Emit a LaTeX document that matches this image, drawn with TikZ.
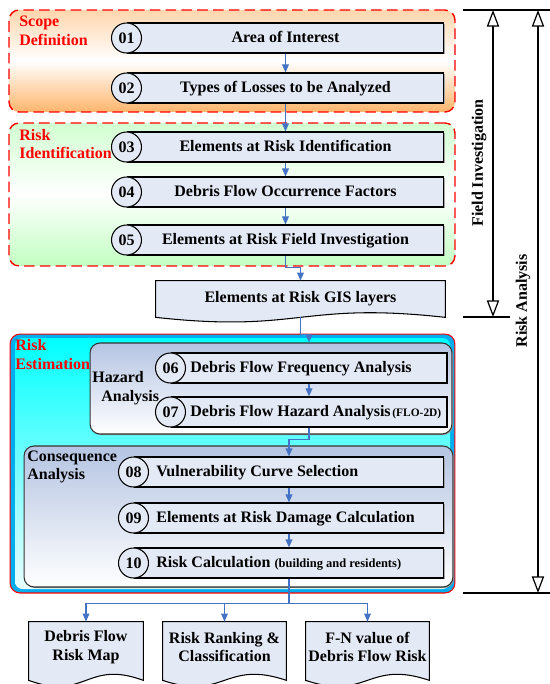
\documentclass[tikz,border=0pt]{standalone}
\usepackage{fontspec}
\setmainfont{Liberation Serif}
\usetikzlibrary{arrows.meta,calc,shadows,backgrounds}
\definecolor{boxfill}{RGB}{228,234,245}
\definecolor{flowblue}{RGB}{68,114,196}
\definecolor{subtop}{RGB}{180,196,226}
\tikzset{
  stepbox/.style={
    draw,
    fill=boxfill,
    line width=0.6pt,
    minimum height=0.6cm,
    inner sep=0pt,
    text height=1.55ex,
    text depth=0.35ex,
    drop shadow={shadow xshift=0.4pt,shadow yshift=-0.5pt,fill=black!35,opacity=1}
  },
  stepnum/.style={
    draw,
    fill=boxfill,
    line width=0.6pt,
    shape=circle,
    minimum size=0.6cm,
    inner sep=0pt
  },
  steptext/.style={
    anchor=west,
    inner sep=0pt,
    text height=1.55ex,
    text depth=0.35ex
  },
  doctext/.style={
    align=center,
    inner sep=0pt
  },
  zone/.style={
    draw=red,
    line width=0.8pt,
    dash pattern=on 6pt off 3pt,
    rounded corners=0.2cm,
    inner sep=0pt
  },
  subzone/.style={
    draw=black!80,
    line width=0.6pt,
    rounded corners=0.2cm,
    inner sep=0pt,
    top color=subtop,
    bottom color=white,
    drop shadow={shadow xshift=0.6pt,shadow yshift=-0.6pt,fill=black!40,opacity=1}
  },
  zonelabel/.style={
    text=red,
    align=left,
    anchor=west,
    inner sep=0pt
  },
  flow/.style={
    draw=flowblue,
    line width=0.8pt,
    -{Triangle[width=3.8pt,length=4.6pt]}
  },
  span/.style={
    line width=0.7pt,
    {Triangle[open,width=7pt,length=9.5pt]}-{Triangle[open,width=7pt,length=9.5pt]}
  },
  every picture/.style={
    x=0.02cm,
    y=-0.02cm,
    font=\fontsize{9.1}{10.5}\selectfont\bfseries
  }
}

\begin{document}
\begin{tikzpicture}
    \useasboundingbox (0,0) rectangle (550,684);
    % zones
    \node[zone,minimum width=8.92cm,minimum height=2.04cm,top color=orange!32,bottom color=orange!58,middle color=white] (scope) at (232,61) {};
    \node[zonelabel] (scopelabel) at (19,31) {Scope\\Definition};
    \node[zone,minimum width=8.92cm,minimum height=2.86cm,top color=green!18,bottom color=green!24,middle color=white] (ident) at (232,194.5) {};
    \node[zonelabel] (identlabel) at (19,144) {Risk\\Identification};
    \node[draw=red,line width=0.6pt,fill=cyan,rounded corners=0.2cm,inner sep=0pt,minimum width=8.9cm,minimum height=5.18cm] (estim) at (232.5,463.5) {};
    \shade[top color=cyan,bottom color=cyan!8,rounded corners=0.15cm] (15,338) rectangle (450,589);
    \node[zonelabel] (estimlabel) at (15,354.5) {Risk\\Estimation};
    \node[subzone,minimum width=7.24cm,minimum height=1.82cm] (haz) at (271,388.5) {};
    \node[anchor=west,align=left,inner sep=0pt] (hazlabel) at (92,388) {Hazard\\\hspace*{0.18cm}Analysis};
    \node[subzone,minimum width=8.58cm,minimum height=2.82cm] (cons) at (238.5,516.5) {};
    \node[anchor=west,align=left,inner sep=0pt] (conslabel) at (27,467) {Consequence\\Analysis};
    % steps
    \foreach \n/\y/\t in {01/38/Area of Interest,02/88/Types of Losses to be Analyzed,03/147/Elements at Risk Identification,04/192/Debris Flow Occurrence Factors,05/240/Elements at Risk Field Investigation}{
        \node[stepbox,minimum width=6.34cm] (b\n) at (285.5,\y) {\t};
        \node[stepnum] (c\n) at (b\n.west) {\n};
    }
    \foreach \n/\y/\t in {06/368/{Debris Flow Frequency Analysis},07/412/{Debris Flow Hazard Analysis\kern1pt{\fontsize{6.5}{7}\selectfont(FLO-2D)}}}{
        \node[stepbox,minimum width=5.52cm] (b\n) at (309,\y) {};
        \node[stepnum] (c\n) at (b\n.west) {\n};
        \node[steptext] (t\n) at ([xshift=0.08cm]c\n.east) {\t};
    }
    \foreach \n/\y/\t in {08/472/{Vulnerability Curve Selection},09/518/{Elements at Risk Damage Calculation},10/563/{Risk Calculation {\fontsize{7.1}{8}\selectfont(building and residents)}}}{
        \node[stepbox,minimum width=6.2cm] (b\n) at (289,\y) {};
        \node[stepnum] (c\n) at (b\n.west) {\n};
        \node[steptext] (t\n) at ([xshift=0.14cm]c\n.east) {\t};
    }
    % documents
    \node[doctext,minimum width=5.78cm,minimum height=0.72cm] (gis) at (300.5,299) {Elements at Risk GIS layers};
    \foreach \i/\x/\w/\t in {1/86/2.28cm/{Debris Flow\\Risk Map},2/224.5/2.46cm/{Risk Ranking \&\\Classification},3/367.5/2.46cm/{F-N value of\\Debris Flow Risk}}{
        \node[doctext,minimum width=\w,minimum height=1cm] (out\i) at (\x,647) {\t};
    }
    \begin{scope}[on background layer]
        \foreach \nm/\amp/\off in {gis/16/0,out1/21/8,out2/21/8,out3/21/8}{
            \draw[fill=boxfill,line width=0.6pt] (\nm.north west) -- (\nm.north east) -- ($(\nm.south east)+(0,\off)$)
                .. controls ($(\nm.south)+(0,\off-\amp)$) and ($(\nm.south)+(0,\off+\amp)$) .. ($(\nm.south west)+(0,\off)$) -- cycle;
        }
    \end{scope}
    % flow
    \foreach \a/\b in {01/02,02/03,03/04,04/05,06/07,08/09,09/10}
        \draw[flow] (b\a.south) -- (b\b.north);
    \draw[flow] (b05.south) -- ++(0,12) -| (gis.north);
    \draw[flow] (gis.south) -- ++(0,17) -| (b06.north |- haz.north);
    \draw[flow] (b07.south) -- ++(0,12) -| (b08.north);
    \coordinate (split) at ($(b10.south)+(0,25)$);
    \draw[flow,-] (b10.south) -- (split);
    \foreach \i in {1,2,3}
        \draw[flow] (split) -| (out\i.north);
    % spans
    \coordinate (fitop) at (493,10);
    \coordinate (fibot) at (493,317);
    \coordinate (ratop) at (538,10);
    \coordinate (rabot) at (538,593);
    \draw[line width=0.7pt] (463,10) -- (550,10);
    \draw[line width=0.7pt] (463,317) -- (510,317);
    \draw[line width=0.7pt] (463,593) -- (550,593);
    \draw[span] (fitop) -- (fibot);
    \draw[span] (ratop) -- (rabot);
    \node[rotate=90] (filabel) at (479,163) {Field Investigation};
    \node[rotate=90] (ralabel) at (523,301) {Risk Analysis};
\end{tikzpicture}
\end{document}
